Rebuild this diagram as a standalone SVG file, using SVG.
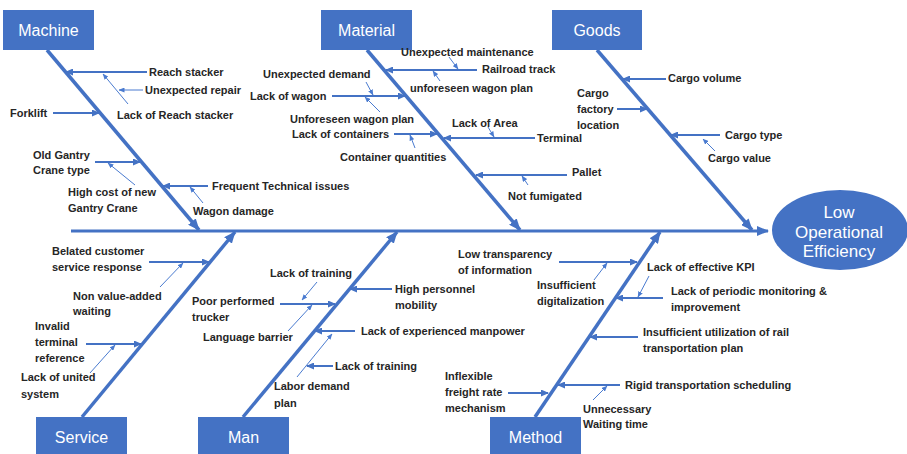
<svg xmlns="http://www.w3.org/2000/svg" width="907" height="454" viewBox="0 0 907 454">
<style>
.box{fill:#4472c4;}
.bt{font-family:"Liberation Sans",Arial,sans-serif;font-size:16px;fill:#ffffff;text-anchor:middle;}
.et{font-family:"Liberation Sans",Arial,sans-serif;font-size:17px;fill:#ffffff;text-anchor:middle;}
.t{font-family:"Liberation Sans",Arial,sans-serif;font-size:11px;font-weight:bold;fill:#262626;}
.main{stroke:#4472c4;stroke-width:3.5;fill:none;marker-end:url(#big);}
.spine{stroke:#4472c4;stroke-width:3;fill:none;marker-end:url(#big);}
.sub{stroke:#4472c4;stroke-width:2;fill:none;marker-end:url(#mid);}
.thin{stroke:#4a7bd0;stroke-width:1;fill:none;marker-end:url(#small);}
</style>
<defs>
<marker id="big" markerUnits="userSpaceOnUse" markerWidth="12" markerHeight="10" refX="11" refY="5" orient="auto"><path d="M0,0 L12,5 L0,10 z" fill="#4472c4"/></marker>
<marker id="mid" markerUnits="userSpaceOnUse" markerWidth="8" markerHeight="7" refX="7" refY="3.5" orient="auto"><path d="M0,0 L8,3.5 L0,7 z" fill="#4472c4"/></marker>
<marker id="small" markerUnits="userSpaceOnUse" markerWidth="6" markerHeight="5" refX="5.5" refY="2.5" orient="auto"><path d="M0,0 L6,2.5 L0,5 z" fill="#4a7bd0"/></marker>
</defs>
<rect width="907" height="454" fill="#ffffff"/>

<g id="connectors">
<line class="spine" x1="71" y1="231" x2="768" y2="231"/>
<line class="main" x1="47" y1="50" x2="199" y2="230"/>
<line class="main" x1="367" y1="50" x2="520" y2="230"/>
<line class="main" x1="597" y1="50" x2="752" y2="230"/>
<line class="main" x1="82" y1="417" x2="235" y2="232"/>
<line class="main" x1="243" y1="417" x2="397" y2="232"/>
<line class="main" x1="535" y1="417" x2="660" y2="232"/>
<!-- Machine -->
<line class="sub" x1="147" y1="72" x2="66" y2="72"/>
<line class="thin" x1="143" y1="90" x2="119" y2="90"/>
<line class="thin" x1="128" y1="104" x2="103" y2="74"/>
<line class="sub" x1="53" y1="113" x2="99" y2="113"/>
<line class="sub" x1="95" y1="162" x2="140" y2="162"/>
<line class="thin" x1="135" y1="185" x2="108" y2="163"/>
<line class="sub" x1="208" y1="186" x2="163" y2="186"/>
<line class="thin" x1="203" y1="203" x2="190" y2="187"/>
<!-- Material -->
<line class="sub" x1="477" y1="70" x2="386" y2="70"/>
<line class="thin" x1="449" y1="57" x2="458" y2="69"/>
<line class="thin" x1="440" y1="81" x2="433" y2="71"/>
<line class="sub" x1="332" y1="96" x2="405" y2="96"/>
<line class="thin" x1="366" y1="82" x2="373" y2="95"/>
<line class="thin" x1="380" y1="112" x2="365" y2="97"/>
<line class="sub" x1="394" y1="134" x2="437" y2="134"/>
<line class="thin" x1="415" y1="148" x2="410" y2="135"/>
<line class="sub" x1="535" y1="138" x2="444" y2="138"/>
<line class="thin" x1="488" y1="127" x2="494" y2="137"/>
<line class="sub" x1="567" y1="175" x2="476" y2="175"/>
<line class="thin" x1="528" y1="185" x2="522" y2="176"/>
<!-- Goods -->
<line class="sub" x1="666" y1="79" x2="623" y2="79"/>
<line class="sub" x1="617" y1="109" x2="647" y2="109"/>
<line class="sub" x1="720" y1="135" x2="671" y2="135"/>
<line class="thin" x1="715" y1="151" x2="703" y2="139"/>
<!-- Service -->
<line class="sub" x1="149" y1="262" x2="209" y2="262"/>
<line class="thin" x1="160" y1="287" x2="183" y2="263"/>
<line class="sub" x1="86" y1="344" x2="141" y2="344"/>
<line class="thin" x1="90" y1="373" x2="115" y2="345"/>
<!-- Man -->
<line class="sub" x1="280" y1="304" x2="335" y2="304"/>
<line class="thin" x1="317" y1="282" x2="302" y2="300"/>
<line class="thin" x1="288" y1="331" x2="312" y2="305"/>
<line class="sub" x1="392" y1="289" x2="350" y2="289"/>
<line class="sub" x1="355" y1="331" x2="315" y2="331"/>
<line class="thin" x1="297" y1="377" x2="332" y2="334"/>
<line class="sub" x1="333" y1="366" x2="307" y2="366"/>
<!-- Method -->
<line class="sub" x1="559" y1="262" x2="637" y2="262"/>
<line class="thin" x1="594" y1="280" x2="607" y2="263"/>
<line class="sub" x1="663" y1="298" x2="616" y2="298"/>
<line class="thin" x1="649" y1="276" x2="638" y2="297"/>
<line class="sub" x1="638" y1="337" x2="590" y2="337"/>
<line class="sub" x1="620" y1="385" x2="558" y2="385"/>
<line class="thin" x1="593" y1="400" x2="607" y2="386"/>
<line class="sub" x1="508" y1="393" x2="548" y2="393"/>
</g>

<g id="machine">
<rect class="box" x="3" y="10" width="91" height="40"/>
<text class="bt" x="48.5" y="36">Machine</text>
<text class="t" x="149" y="76">Reach stacker</text>
<text class="t" x="145" y="94">Unexpected repair</text>
<text class="t" x="117" y="119">Lack of Reach stacker</text>
<text class="t" x="10" y="117">Forklift</text>
<text class="t" x="33" y="159">Old Gantry</text>
<text class="t" x="33" y="174">Crane type</text>
<text class="t" x="68" y="196">High cost of new</text>
<text class="t" x="68" y="212">Gantry Crane</text>
<text class="t" x="212" y="190">Frequent Technical issues</text>
<text class="t" x="193" y="215">Wagon damage</text>
</g>

<g id="material">
<rect class="box" x="321" y="10" width="91" height="40"/>
<text class="bt" x="366.5" y="36">Material</text>
<text class="t" x="401" y="56">Unexpected maintenance</text>
<text class="t" x="482" y="73">Railroad track</text>
<text class="t" x="410" y="92">unforeseen wagon plan</text>
<text class="t" x="263" y="78">Unexpected demand</text>
<text class="t" x="250" y="100">Lack of wagon</text>
<text class="t" x="290" y="123">Unforeseen wagon plan</text>
<text class="t" x="292" y="138">Lack of containers</text>
<text class="t" x="340" y="161">Container quantities</text>
<text class="t" x="452" y="127">Lack of Area</text>
<text class="t" x="537" y="142">Terminal</text>
<text class="t" x="572" y="176">Pallet</text>
<text class="t" x="508" y="200">Not fumigated</text>
</g>

<g id="goods">
<rect class="box" x="552" y="10" width="90" height="40"/>
<text class="bt" x="597" y="36">Goods</text>
<text class="t" x="668" y="82">Cargo volume</text>
<text class="t" x="577" y="97">Cargo</text>
<text class="t" x="577" y="113">factory</text>
<text class="t" x="577" y="129">location</text>
<text class="t" x="725" y="139">Cargo type</text>
<text class="t" x="708" y="162">Cargo value</text>
</g>

<g id="service">
<rect class="box" x="36" y="417" width="91" height="40"/>
<text class="bt" x="81.5" y="443">Service</text>
<text class="t" x="52" y="255">Belated customer</text>
<text class="t" x="52" y="271">service response</text>
<text class="t" x="73" y="300">Non value-added</text>
<text class="t" x="73" y="315">waiting</text>
<text class="t" x="35" y="330">Invalid</text>
<text class="t" x="35" y="346">terminal</text>
<text class="t" x="35" y="362">reference</text>
<text class="t" x="21" y="381">Lack of united</text>
<text class="t" x="21" y="398">system</text>
</g>

<g id="man">
<rect class="box" x="198" y="417" width="91" height="40"/>
<text class="bt" x="243.5" y="443">Man</text>
<text class="t" x="192" y="305">Poor performed</text>
<text class="t" x="192" y="321">trucker</text>
<text class="t" x="270" y="277">Lack of training</text>
<text class="t" x="203" y="341">Language barrier</text>
<text class="t" x="395" y="293">High personnel</text>
<text class="t" x="395" y="309">mobility</text>
<text class="t" x="361" y="335">Lack of experienced manpower</text>
<text class="t" x="274" y="390">Labor demand</text>
<text class="t" x="274" y="407">plan</text>
<text class="t" x="335" y="370">Lack of training</text>
</g>

<g id="method">
<rect class="box" x="490" y="417" width="91" height="40"/>
<text class="bt" x="535.5" y="443">Method</text>
<text class="t" x="458" y="258">Low transparency</text>
<text class="t" x="458" y="274">of information</text>
<text class="t" x="537" y="289">Insufficient</text>
<text class="t" x="537" y="305">digitalization</text>
<text class="t" x="647" y="271">Lack of effective KPI</text>
<text class="t" x="671" y="295">Lack of periodic monitoring &amp;</text>
<text class="t" x="671" y="311">improvement</text>
<text class="t" x="643" y="336">Insufficient utilization of rail</text>
<text class="t" x="643" y="352">transportation plan</text>
<text class="t" x="625" y="389">Rigid transportation scheduling</text>
<text class="t" x="583" y="413">Unnecessary</text>
<text class="t" x="583" y="428">Waiting time</text>
<text class="t" x="445" y="380">Inflexible</text>
<text class="t" x="445" y="396">freight rate</text>
<text class="t" x="445" y="412">mechanism</text>
</g>

<g id="effect">
<ellipse cx="840" cy="230" rx="68" ry="40" fill="#4472c4"/>
<text class="et" x="839" y="218">Low</text>
<text class="et" x="839" y="238">Operational</text>
<text class="et" x="839" y="257">Efficiency</text>
</g>
</svg>
